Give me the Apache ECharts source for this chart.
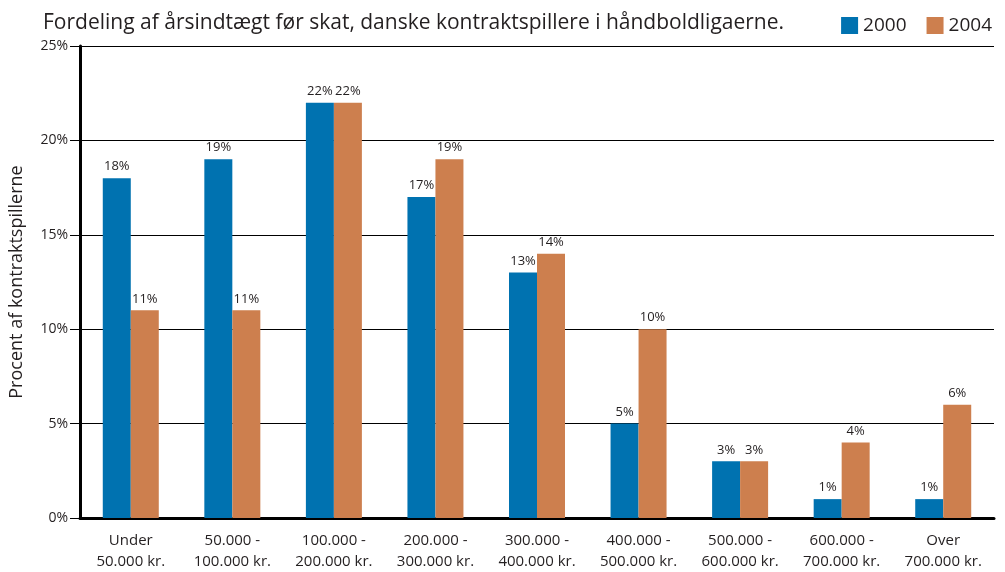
<!DOCTYPE html>
<html><head><meta charset="utf-8">
<script src="https://cdn.jsdelivr.net/npm/echarts@6/dist/echarts.min.js"></script>
<style>html,body{margin:0;padding:0;background:#fff}#c{width:1005px;height:572px}</style>
</head><body><div id="c"></div>
<script>
const categories = ["Under\n50.000 kr.", "50.000 -\n100.000 kr.", "100.000 -\n200.000 kr.", "200.000 -\n300.000 kr.", "300.000 -\n400.000 kr.", "400.000 -\n500.000 kr.", "500.000 -\n600.000 kr.", "600.000 -\n700.000 kr.", "Over\n700.000 kr."];
const values2000 = [18, 19, 22, 17, 13, 5, 3, 1, 1];
const values2004 = [11, 11, 22, 19, 14, 10, 3, 4, 6];
const seriesNames = ["2000", "2004"];
const titleText = "Fordeling af årsindtægt før skat, danske kontraktspillere i håndboldligaerne.";
const yAxisName = "Procent af kontraktspillerne";

const chart = echarts.init(document.getElementById('c'));
const font = "'Liberation Sans Narrow','Open Sans',sans-serif";
const lbl = {show: true, position: 'top', distance: 5, formatter: '{c}%', color: '#231f20', fontSize: 13, fontFamily: "'Open Sans',sans-serif"};
chart.setOption({
  animation: false,
  textStyle: {fontFamily: "'Open Sans',sans-serif"},
  title: {text: titleText, left: 38, top: 8, textStyle: {fontSize: 21, fontWeight: 'normal', color: '#231f20', fontFamily: font}},
  legend: {right: 8, top: 11, itemWidth: 17, itemHeight: 17, itemGap: 20, icon: 'rect',
    textStyle: {fontSize: 19, color: '#231f20', fontFamily: font}, data: seriesNames},
  grid: {left: 79, right: 11, top: 46, bottom: 54, containLabel: false},
  xAxis: {type: 'category', data: categories,
    axisLine: {lineStyle: {color: '#000', width: 3}}, axisTick: {show: false},
    axisLabel: {color: '#231f20', fontSize: 15, lineHeight: 21, margin: 12, interval: 0}},
  yAxis: {type: 'value', min: 0, max: 25, interval: 5,
    name: yAxisName, nameLocation: 'middle', nameGap: 54, nameRotate: 90,
    nameTextStyle: {fontSize: 18, color: '#231f20'},
    axisLine: {show: true, lineStyle: {color: '#000', width: 3}},
    axisTick: {show: true, length: 10, lineStyle: {color: '#000', width: 1}},
    axisLabel: {formatter: '{value}%', color: '#231f20', fontSize: 14, margin: 12},
    splitLine: {lineStyle: {color: '#000', width: 1}}},
  series: [
    {name: seriesNames[0], type: 'bar', data: values2000, barWidth: 28, barGap: '0%', itemStyle: {color: '#0072b0'}, label: lbl},
    {name: seriesNames[1], type: 'bar', data: values2004, barWidth: 28, barGap: '0%', itemStyle: {color: '#cd7f4e'}, label: lbl}
  ]
});
</script></body></html>
